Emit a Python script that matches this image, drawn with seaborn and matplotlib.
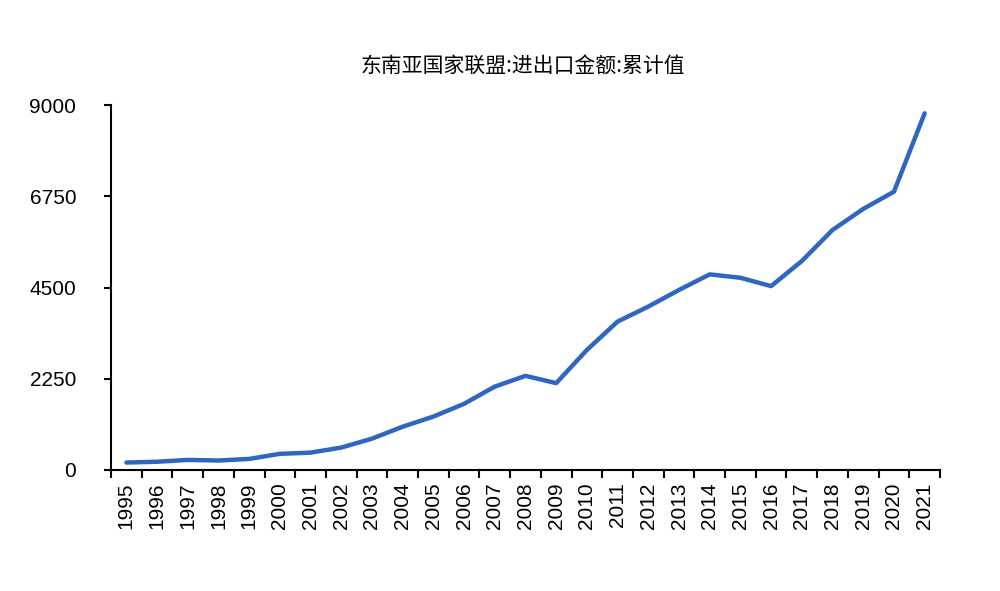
import numpy as np
import pandas as pd
import matplotlib
matplotlib.use("Agg")
import matplotlib.pyplot as plt
import seaborn as sns
from matplotlib.ticker import FixedLocator

years = ["1995", "1996", "1997", "1998", "1999", "2000", "2001", "2002", "2003",
         "2004", "2005", "2006", "2007", "2008", "2009", "2010", "2011", "2012",
         "2013", "2014", "2015", "2016", "2017", "2018", "2019", "2020", "2021"]
values = [180, 200, 245, 230, 270, 395, 425, 550, 770, 1065, 1315, 1630, 2055,
          2320, 2140, 2960, 3660, 4030, 4440, 4825, 4740, 4535, 5155, 5920, 6440,
          6865, 8800]
yticks = [0, 2250, 4500, 6750, 9000]
title = "东南亚国家联盟:进出口金额:累计值"

sns.set_theme(style="white")
plt.rcParams['font.family'] = ['Liberation Sans', 'Noto Sans CJK SC', 'DejaVu Sans']
plt.rcParams['text.color'] = 'black'
plt.rcParams['xtick.color'] = 'black'
plt.rcParams['ytick.color'] = 'black'
plt.rcParams['axes.labelcolor'] = 'black'

df = pd.DataFrame({"idx": np.arange(len(years)), "value": values})

fig = plt.figure(figsize=(10, 5.91), dpi=100)
ax = fig.add_axes([0.111, 0.205, 0.829, 0.617])
sns.lineplot(data=df, x="idx", y="value", ax=ax, color="#2E66C2", linewidth=3.2)

ax.set_xlim(-0.5, len(years) - 0.5)
ax.set_ylim(0, 9000)
ax.set_yticks(yticks)
ax.set_yticklabels([str(t) for t in yticks], fontsize=15, color="black")
ax.set_xticks(np.arange(len(years)))
ax.set_xticklabels(years, rotation=90, fontsize=15, color="black")
ax.xaxis.set_minor_locator(FixedLocator(np.arange(-0.5, len(years), 1.0)))
ax.tick_params(axis="x", which="major", length=0, pad=9)
ax.tick_params(axis="x", which="minor", bottom=True, length=6, width=1.5, color="black", direction="out")
ax.tick_params(axis="y", which="major", left=True, length=5, width=1.5, color="black", direction="out", pad=20)
ax.set_xlabel("")
ax.set_ylabel("")

for s in ["top", "right"]:
    ax.spines[s].set_visible(False)
for s in ["left", "bottom"]:
    ax.spines[s].set_color("black")
    ax.spines[s].set_linewidth(1.5)

fig.text(0.523, 0.888, title, ha="center", va="center", fontsize=15, color="black",
         family=['Noto Sans CJK SC', 'DejaVu Sans'])

fig.savefig("out.png", dpi=100, facecolor="white")
